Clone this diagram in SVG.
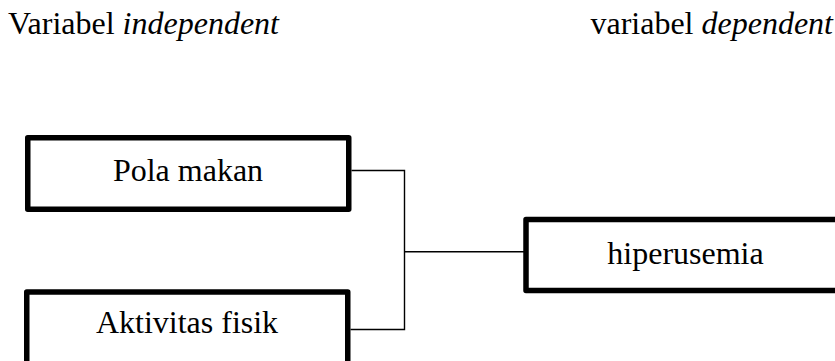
<svg xmlns="http://www.w3.org/2000/svg" width="835" height="361" viewBox="0 0 835 361">
<style>
.box{fill:#fff;stroke:#000;stroke-width:5.5;stroke-linejoin:round}
.t{font-family:"Liberation Serif","Times New Roman",serif;font-size:32px;fill:#000}
.c{text-anchor:middle}
.conn{fill:none;stroke:#000;stroke-width:1.4}
</style>
<rect width="835" height="361" fill="#fff"/>
<g id="title-independent"><text class="t" x="8" y="34">Variabel <tspan font-style="italic">independent</tspan></text></g>
<g id="title-dependent"><text class="t" x="833" y="34" text-anchor="end">variabel <tspan font-style="italic">dependent</tspan></text></g>
<g id="connectors">
<polyline class="conn" points="351.5,170.5 404.5,170.5 404.5,329.5 350.5,329.5"/>
<line class="conn" x1="404.5" y1="251.7" x2="524" y2="251.7"/>
</g>
<g id="node-pola-makan">
<rect class="box" x="27.75" y="137.75" width="321" height="71.5"/>
<text class="t c" x="188" y="181">Pola makan</text>
</g>
<g id="node-aktivitas-fisik">
<rect class="box" x="26.75" y="292" width="321" height="80"/>
<text class="t c" x="187" y="333">Aktivitas fisik</text>
</g>
<g id="node-hiperusemia">
<rect class="box" x="526" y="219.5" width="330" height="71"/>
<text class="t c" x="685.5" y="264">hiperusemia</text>
</g>
</svg>
